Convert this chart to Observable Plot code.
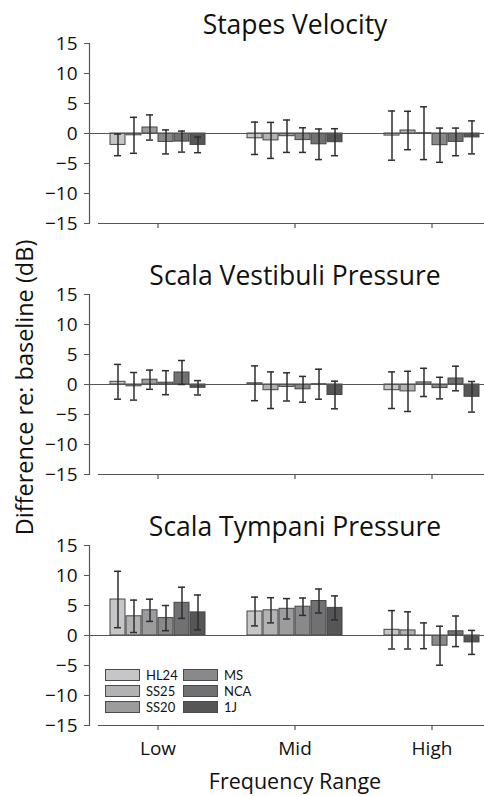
<!DOCTYPE html>
<html>
<head>
<meta charset="utf-8">
<script src="https://cdn.jsdelivr.net/npm/d3@7"></script>
<script src="https://cdn.jsdelivr.net/npm/@observablehq/plot@0.6"></script>
<style>
  html, body { margin: 0; padding: 0; background: #fff; overflow: hidden; }
  #wrap { position: relative; width: 484px; height: 796px; overflow: hidden; font-family: "Open Sans", sans-serif; }
  #chart { position: absolute; left: 0; top: 0; }
  #legend { position: absolute; left: 105px; top: 669px; display: grid; grid-auto-flow: column;
            grid-template-rows: repeat(3, 12px); grid-template-columns: 78px auto; row-gap: 4px;
            font-family: Lato, "Open Sans", sans-serif; font-size: 13px; color: #111; }
  #legend .item { display: flex; align-items: center; height: 12px; }
  #legend .sw { width: 35px; height: 12px; box-sizing: border-box; border: 1.5px solid #4a4a4a; margin-right: 6px; flex: none; }
  #legend .lab { display: block; height: 12px; line-height: 12px; overflow: visible; white-space: nowrap; }
</style>
</head>
<body>
<div id="wrap">
  <div id="chart"></div>
  <div id="legend"></div>
</div>
<script>
const panels = ["Stapes Velocity", "Scala Vestibuli Pressure", "Scala Tympani Pressure"];
const categories = ["Low", "Mid", "High"];
const series = ["HL24", "SS25", "SS20", "MS", "NCA", "1J"];
const seriesColors = ["#c6c6c8", "#b2b2b4", "#9c9c9e", "#89898b", "#717173", "#565658"];
const yTicks = [-15, -10, -5, 0, 5, 10, 15];
const yLabel = "Difference re: baseline (dB)";
const xLabel = "Frequency Range";

// Stapes Velocity: [category][series]
const svValues = [[-1.9, -0.3, 1.0, -1.4, -1.35, -1.9], [-0.8, -1.15, -0.45, -1.1, -1.8, -1.45], [-0.35, 0.5, 0.05, -1.95, -1.4, -0.65]];
const svErrors = [[1.8, 3.0, 2.1, 2.0, 1.75, 1.3], [2.7, 3.0, 2.7, 2.05, 2.55, 2.25], [4.1, 3.2, 4.4, 2.85, 2.3, 2.75]];
// Scala Vestibuli Pressure
const svpValues = [[0.45, -0.3, 0.8, 0.3, 2.0, -0.55], [0.2, -0.95, -0.4, -0.8, 0.05, -1.75], [-0.95, -1.15, 0.35, -0.6, 1.0, -2.05]];
const svpErrors = [[2.9, 2.3, 1.6, 2.0, 2.0, 1.2], [2.9, 3.05, 2.35, 2.15, 2.5, 2.3], [3.05, 3.35, 2.35, 1.8, 2.05, 2.55]];
// Scala Tympani Pressure
const stpValues = [[6.0, 3.2, 4.2, 2.9, 5.45, 3.85], [4.0, 4.2, 4.45, 4.8, 5.75, 4.6], [0.95, 0.85, -0.05, -1.7, 0.7, -1.15]];
const stpErrors = [[4.7, 2.7, 1.85, 2.1, 2.6, 2.9], [2.4, 2.1, 1.7, 1.45, 2.0, 2.0], [3.2, 3.1, 2.15, 3.25, 2.55, 2.0]];

const panelValues = [svValues, svpValues, stpValues];
const panelErrors = [svErrors, svpErrors, stpErrors];

const data = [];
panels.forEach((p, pi) => categories.forEach((c, ci) => series.forEach((s, si) => {
  data.push({panel: p, cat: c, series: s, v: panelValues[pi][ci][si], e: panelErrors[pi][ci][si]});
})));

const yMin = yTicks[0], yMax = yTicks[yTicks.length - 1];
const fmt = d3.format("d");

const chart = Plot.plot({
  width: 501,
  height: 796,
  marginLeft: 88,
  marginRight: 0,
  marginTop: 43,
  marginBottom: 71,
  style: "max-width:none; overflow:visible; background:transparent; font-family:'Open Sans', sans-serif; font-size:18px; color:#111;",
  fx: {domain: categories, padding: 0},
  fy: {domain: panels, paddingInner: 0.2829, paddingOuter: 0, axis: null},
  x: {domain: series, paddingInner: 0.05, paddingOuter: 1.12, axis: null},
  y: {domain: [yMin, yMax], label: null},
  color: {domain: series, range: seriesColors},
  marks: [
    Plot.barY(data, {fx: "cat", fy: "panel", x: "series", y: "v", fill: "series", stroke: "#454545", strokeWidth: 1}),
    Plot.ruleY([0], {stroke: "#555", strokeWidth: 1}),
    Plot.ruleX(data, {fx: "cat", fy: "panel", x: "series", y1: d => d.v - d.e, y2: d => d.v + d.e, stroke: "#2e2e2e", strokeWidth: 1.5}),
    Plot.tickY(data, {fx: "cat", fy: "panel", x: "series", y: d => d.v + d.e, insetLeft: 4, insetRight: 4, stroke: "#2e2e2e", strokeWidth: 1.5}),
    Plot.tickY(data, {fx: "cat", fy: "panel", x: "series", y: d => d.v - d.e, insetLeft: 4, insetRight: 4, stroke: "#2e2e2e", strokeWidth: 1.5}),
    // axis lines
    Plot.frame({anchor: "left", facetAnchor: "left", stroke: "#555", strokeWidth: 1.2}),
    Plot.ruleY([yMin], {facetAnchor: "left", insetLeft: 9, stroke: "#555", strokeWidth: 1.2}),
    Plot.ruleY(categories.slice(1), {fx: d => d, y: () => yMin, stroke: "#555", strokeWidth: 1.2}),
    // category tick marks in every panel
    Plot.ruleX([0], {x: null, y1: () => yMin, y2: () => yMin, insetBottom: -5, stroke: "#555", strokeWidth: 1.2}),
    Plot.axisY({ticks: yTicks, tickFormat: fmt, tickSize: 5, tickPadding: 7, fontSize: 19, label: null, stroke: "#555"}),
    Plot.axisFx({anchor: "bottom", tickSize: 0, tickPadding: 16, fontSize: 19, label: null}),
    Plot.axisFx({anchor: "bottom", tickSize: 0, tickFormat: () => "", fontSize: 21.5,
                 label: xLabel, labelAnchor: "center", labelOffset: 63}),
    // shared y-axis label, centred on the middle panel
    Plot.text([yLabel], {fy: () => panels[1], fx: () => categories[0], text: d => d, frameAnchor: "left",
                         textAnchor: "middle", rotate: -90, lineAnchor: "top", dx: -73, dy: 3,
                         fontSize: 23.5, fill: "#111"}),
    // panel titles
    Plot.text(panels, {fy: d => d, fx: () => categories[1], text: d => d, frameAnchor: "top",
                       lineAnchor: "bottom", dy: -10, fontSize: 26.5, fill: "#111"})
  ]
});
document.getElementById("chart").appendChild(chart);

// legend
const legend = document.getElementById("legend");
series.forEach((s, i) => {
  const item = document.createElement("div");
  item.className = "item";
  const sw = document.createElement("span");
  sw.className = "sw";
  sw.style.background = seriesColors[i];
  const lab = document.createElement("div");
  lab.className = "lab";
  lab.textContent = s;
  item.appendChild(sw);
  item.appendChild(lab);
  legend.appendChild(item);
});
</script>
</body>
</html>
